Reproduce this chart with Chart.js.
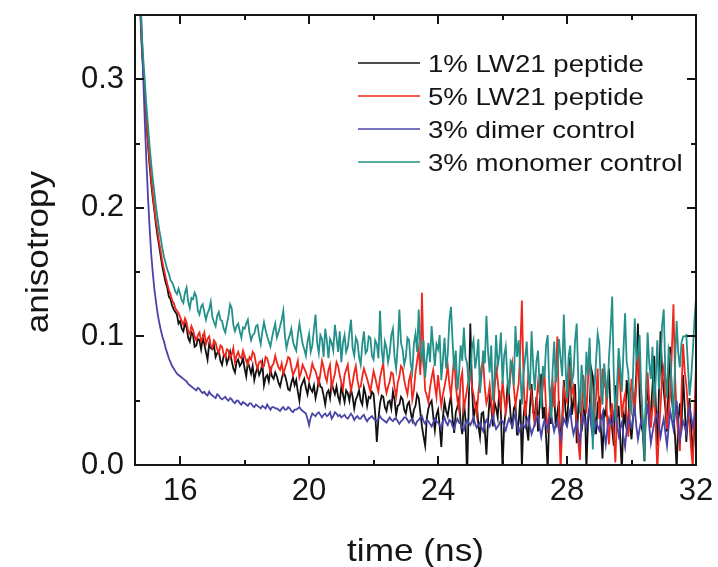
<!DOCTYPE html>
<html>
<head>
<meta charset="utf-8">
<title>anisotropy decay</title>
<script src="https://cdn.jsdelivr.net/npm/chart.js@4.4.1/dist/chart.umd.min.js"></script>
<style>
    html, body { margin: 0; padding: 0; background: #fff; }
    #wrap { width: 718px; height: 567px; }
</style>
</head>
<body>
<div id="wrap"><canvas id="chart" width="718" height="567"></canvas></div>
<script>
(function () {
    'use strict';

    // time channels: 0.05 ns apart, first one at 14.7 ns (one row = 1 ns)
    var T_START = 14.7;
    var T_STEP = 0.05;

    var X_TICKS = [16, 20, 24, 28, 32];
    var X_MINOR = [18, 22, 26, 30];
    var Y_TICKS = [0, 0.1, 0.2, 0.3];
    var Y_MINOR = [0.05, 0.15, 0.25];

    var LABELS = ['1% LW21 peptide', '5% LW21 peptide', '3% dimer control', '3% monomer control'];
    var COLORS = ['#111111', '#f0261c', '#4a44a6', '#23908a'];

    var LW21_1 = [
        0.400, 0.362, 0.330, 0.308, 0.290, 0.269,
        0.250, 0.234, 0.220, 0.208, 0.198, 0.187, 0.178, 0.170, 0.162, 0.154, 0.148, 0.142, 0.138, 0.131, 0.129, 0.124, 0.121, 0.119, 0.117, 0.110,
        0.112, 0.106, 0.104, 0.110, 0.107, 0.099, 0.096, 0.103, 0.101, 0.092, 0.093, 0.098, 0.097, 0.090, 0.099, 0.094, 0.088, 0.082, 0.094, 0.091,
        0.090, 0.093, 0.084, 0.087, 0.089, 0.081, 0.078, 0.085, 0.086, 0.079, 0.083, 0.088, 0.081, 0.075, 0.072, 0.080, 0.082, 0.077, 0.079, 0.083,
        0.075, 0.069, 0.080, 0.076, 0.071, 0.077, 0.066, 0.072, 0.076, 0.070, 0.073, 0.079, 0.062, 0.068, 0.070, 0.065, 0.074, 0.069, 0.067, 0.072,
        0.069, 0.064, 0.061, 0.067, 0.072, 0.070, 0.065, 0.059, 0.058, 0.064, 0.068, 0.062, 0.066, 0.057, 0.050, 0.061, 0.064, 0.067, 0.060, 0.055,
        0.063, 0.059, 0.057, 0.062, 0.052, 0.058, 0.066, 0.061, 0.060, 0.054, 0.047, 0.056, 0.058, 0.052, 0.064, 0.059, 0.055, 0.061, 0.053, 0.049,
        0.061, 0.055, 0.049, 0.058, 0.056, 0.050, 0.059, 0.053, 0.044, 0.051, 0.054, 0.058, 0.050, 0.047, 0.060, 0.055, 0.046, 0.053, 0.052, 0.057,
        0.055, 0.040, 0.018, 0.036, 0.048, 0.054, 0.053, 0.045, 0.042, 0.049, 0.050, 0.044, 0.057, 0.051, 0.039, 0.046, 0.047, 0.053, 0.051, 0.043,
        0.040, 0.047, 0.049, 0.041, 0.035, 0.043, 0.046, 0.055, 0.052, 0.041, 0.030, 0.022, 0.015, 0.036, 0.044, 0.048, 0.050, 0.038, 0.027, 0.039,
        0.043, 0.030, 0.014, 0.037, 0.049, 0.042, 0.038, 0.047, 0.054, 0.036, 0.025, 0.041, 0.045, 0.052, 0.033, 0.024, 0.051, 0.035, -0.010, 0.046,
        0.110, 0.062, 0.036, 0.044, 0.048, 0.031, 0.022, 0.040, 0.041, 0.027, 0.008, 0.034, 0.052, 0.045, 0.030, 0.049, 0.044, 0.037, 0.058, 0.040,
        -0.004, 0.031, 0.042, 0.060, 0.055, 0.039, 0.028, 0.044, 0.047, 0.023, 0.034, 0.051, -0.002, 0.037, 0.050, 0.029, 0.019, 0.045, 0.063, 0.041,
        0.038, 0.053, 0.026, 0.048, 0.071, 0.036, 0.045, 0.022, -0.004, 0.040, 0.032, 0.061, 0.057, 0.029, 0.041, 0.050, 0.012, 0.035, 0.066, 0.043,
        0.030, 0.056, 0.084, 0.039, 0.049, 0.063, 0.017, 0.045, 0.058, 0.026, 0.036, 0.052, -0.003, 0.033, 0.044, 0.075, 0.069, 0.040, 0.024, 0.048,
        0.051, 0.028, 0.005, 0.042, 0.039, 0.058, 0.075, 0.043, 0.028, 0.015, 0.062, 0.037, 0.046, 0.021, -0.006, 0.039, 0.033, 0.066, 0.055, 0.031,
        0.020, 0.038, 0.047, 0.072, 0.110, 0.054, 0.031, 0.025, 0.003, 0.046, 0.064, 0.037, 0.042, 0.060, 0.085, 0.049, 0.015, 0.056, 0.104, 0.071,
        0.058, 0.044, 0.026, 0.063, 0.092, 0.051, 0.040, 0.022, -0.004, 0.035, 0.048, 0.029, 0.070, 0.045, 0.018, 0.039, 0.052, 0.030, 0.009, 0.027,
        0.038
    ];

    var LW21_5 = [
        0.400, 0.365, 0.335, 0.311, 0.290, 0.270,
        0.252, 0.237, 0.224, 0.211, 0.200, 0.190, 0.182, 0.173, 0.166, 0.158, 0.152, 0.146, 0.141, 0.136, 0.133, 0.128, 0.126, 0.122, 0.120, 0.118,
        0.115, 0.112, 0.109, 0.114, 0.111, 0.104, 0.102, 0.108, 0.105, 0.100, 0.097, 0.101, 0.103, 0.096, 0.099, 0.103, 0.094, 0.098, 0.100, 0.093,
        0.091, 0.097, 0.095, 0.090, 0.087, 0.093, 0.092, 0.086, 0.084, 0.090, 0.089, 0.083, 0.086, 0.091, 0.080, 0.085, 0.088, 0.084, 0.083, 0.089,
        0.085, 0.081, 0.078, 0.084, 0.082, 0.088, 0.086, 0.079, 0.075, 0.080, 0.081, 0.076, 0.077, 0.084, 0.083, 0.078, 0.072, 0.077, 0.079, 0.085,
        0.080, 0.076, 0.074, 0.079, 0.071, 0.075, 0.079, 0.084, 0.083, 0.076, 0.070, 0.073, 0.076, 0.081, 0.068, 0.072, 0.078, 0.075, 0.072, 0.068,
        0.066, 0.072, 0.079, 0.075, 0.073, 0.068, 0.063, 0.071, 0.081, 0.076, 0.069, 0.065, 0.074, 0.078, 0.060, 0.066, 0.071, 0.080, 0.077, 0.070,
        0.064, 0.059, 0.070, 0.074, 0.078, 0.067, 0.058, 0.064, 0.072, 0.077, 0.066, 0.060, 0.061, 0.069, 0.075, 0.071, 0.067, 0.062, 0.057, 0.065,
        0.073, 0.068, 0.062, 0.057, 0.068, 0.074, 0.079, 0.063, 0.056, 0.061, 0.065, 0.072, 0.071, 0.060, 0.053, 0.064, 0.069, 0.077, 0.075, 0.066,
        0.060, 0.055, 0.066, 0.071, 0.051, 0.058, 0.072, 0.081, 0.090, 0.070, 0.134, 0.083, 0.058, 0.054, 0.049, 0.060, 0.068, 0.074, 0.062, 0.053,
        0.070, 0.058, 0.046, 0.055, 0.061, 0.068, 0.077, 0.063, 0.054, 0.070, 0.085, 0.062, 0.050, 0.043, 0.066, 0.072, 0.044, 0.051, 0.059, 0.067,
        0.073, 0.061, 0.055, 0.047, 0.039, 0.056, 0.068, 0.077, 0.081, 0.060, 0.048, 0.053, 0.062, 0.049, 0.036, 0.058, 0.075, 0.066, 0.052, 0.045,
        0.066, 0.052, 0.041, 0.050, 0.058, 0.071, 0.079, 0.060, 0.047, 0.055, 0.063, 0.090, 0.128, 0.067, 0.038, 0.049, 0.071, 0.064, 0.054, 0.042,
        0.030, 0.047, 0.064, 0.055, 0.048, 0.061, 0.072, 0.044, 0.025, 0.041, 0.058, 0.066, 0.045, 0.070, 0.100, 0.038, -0.003, 0.029, 0.060, 0.053,
        0.049, 0.064, 0.078, 0.056, 0.061, 0.044, 0.033, 0.018, 0.004, 0.037, 0.070, 0.059, 0.040, 0.066, 0.091, 0.052, 0.027, 0.041, 0.053, 0.075,
        0.036, 0.050, 0.075, 0.064, 0.059, 0.034, 0.016, 0.039, 0.048, 0.025, 0.002, 0.044, 0.080, 0.061, 0.037, 0.049, 0.055, 0.038, 0.022, 0.046,
        0.067, 0.056, 0.041, 0.063, 0.086, 0.070, 0.054, 0.031, 0.013, 0.048, 0.072, 0.050, 0.029, 0.044, 0.063, 0.030, -0.004, 0.024, 0.046, 0.069,
        0.076, 0.051, 0.028, 0.043, 0.056, 0.088, 0.125, 0.070, 0.038, 0.024, 0.011, 0.057, 0.094, 0.073, 0.062, 0.045, 0.031, 0.012, -0.002, 0.040,
        0.078
    ];

    var DIMER = [
        0.420, 0.380, 0.345, 0.305, 0.270, 0.238,
        0.210, 0.186, 0.165, 0.150, 0.137, 0.127, 0.118, 0.111, 0.105, 0.100, 0.096, 0.091, 0.087, 0.083, 0.080, 0.077, 0.075, 0.073, 0.071, 0.070,
        0.069, 0.068, 0.067, 0.066, 0.065, 0.063, 0.062, 0.061, 0.060, 0.059, 0.058, 0.060, 0.059, 0.057, 0.056, 0.057, 0.055, 0.054, 0.057, 0.055,
        0.054, 0.053, 0.052, 0.055, 0.054, 0.052, 0.051, 0.052, 0.053, 0.051, 0.050, 0.052, 0.051, 0.049, 0.048, 0.050, 0.050, 0.048, 0.047, 0.049,
        0.048, 0.047, 0.046, 0.048, 0.048, 0.046, 0.045, 0.047, 0.046, 0.045, 0.044, 0.046, 0.045, 0.044, 0.047, 0.045, 0.043, 0.045, 0.045, 0.044,
        0.044, 0.043, 0.042, 0.044, 0.045, 0.043, 0.043, 0.045, 0.044, 0.042, 0.041, 0.043, 0.043, 0.044, 0.045, 0.043, 0.042, 0.041, 0.040, 0.036,
        0.031, 0.037, 0.040, 0.039, 0.038, 0.040, 0.041, 0.039, 0.037, 0.039, 0.040, 0.038, 0.039, 0.041, 0.036, 0.038, 0.041, 0.040, 0.038, 0.039,
        0.037, 0.038, 0.039, 0.037, 0.036, 0.038, 0.040, 0.038, 0.035, 0.037, 0.038, 0.036, 0.036, 0.038, 0.039, 0.036, 0.034, 0.036, 0.037, 0.038,
        0.036, 0.035, 0.034, 0.036, 0.038, 0.036, 0.035, 0.034, 0.033, 0.035, 0.037, 0.035, 0.034, 0.036, 0.036, 0.034, 0.032, 0.034, 0.035, 0.037,
        0.037, 0.035, 0.033, 0.035, 0.036, 0.033, 0.031, 0.034, 0.035, 0.037, 0.038, 0.034, 0.032, 0.035, 0.034, 0.032, 0.030, 0.033, 0.036, 0.034,
        0.033, 0.031, 0.029, 0.034, 0.037, 0.033, 0.031, 0.035, 0.034, 0.030, 0.028, 0.033, 0.036, 0.033, 0.032, 0.029, 0.027, 0.032, 0.035, 0.033,
        0.031, 0.034, 0.037, 0.032, 0.029, 0.031, 0.033, 0.029, 0.026, 0.032, 0.035, 0.032, 0.030, 0.035, 0.038, 0.032, 0.028, 0.030, 0.032, 0.035,
        0.034, 0.030, 0.027, 0.032, 0.036, 0.033, 0.030, 0.036, 0.040, 0.031, 0.025, 0.029, 0.033, 0.031, 0.029, 0.034, 0.037, 0.030, 0.024, 0.028,
        0.032, 0.036, 0.038, 0.029, 0.022, 0.030, 0.035, 0.031, 0.028, 0.036, 0.041, 0.033, 0.026, 0.031, 0.034, 0.027, 0.020, 0.029, 0.036, 0.033,
        0.030, 0.037, 0.043, 0.031, 0.024, 0.029, 0.033, 0.026, 0.018, 0.031, 0.039, 0.034, 0.029, 0.038, 0.045, 0.030, 0.021, 0.027, 0.034, 0.030,
        0.027, 0.035, 0.040, 0.026, 0.016, 0.028, 0.036, 0.032, 0.031, 0.039, 0.046, 0.032, 0.023, 0.029, 0.033, 0.022, 0.014, 0.027, 0.038, 0.031,
        0.029, 0.037, 0.044, 0.030, 0.020, 0.028, 0.035, 0.031, 0.026, 0.038, 0.048, 0.030, 0.017, 0.025, 0.032, 0.037, 0.040, 0.030, 0.022, 0.030,
        0.036, 0.025, 0.015, 0.029, 0.042, 0.035, 0.028, 0.040, 0.050, 0.033, 0.019, 0.027, 0.034, 0.030, 0.025, 0.036, 0.045, 0.038, 0.030, 0.037,
        0.042
    ];

    var MONOMER = [
        0.410, 0.372, 0.340, 0.318, 0.300, 0.281,
        0.265, 0.249, 0.235, 0.223, 0.212, 0.201, 0.192, 0.183, 0.176, 0.168, 0.162, 0.157, 0.152, 0.149, 0.144, 0.142, 0.139, 0.135, 0.133, 0.137,
        0.133, 0.128, 0.126, 0.134, 0.138, 0.127, 0.122, 0.130, 0.129, 0.134, 0.131, 0.120, 0.117, 0.123, 0.125, 0.119, 0.113, 0.118, 0.121, 0.127,
        0.115, 0.111, 0.108, 0.116, 0.119, 0.113, 0.112, 0.106, 0.103, 0.110, 0.116, 0.125, 0.122, 0.109, 0.104, 0.108, 0.110, 0.104, 0.099, 0.107,
        0.106, 0.110, 0.113, 0.103, 0.097, 0.101, 0.102, 0.108, 0.109, 0.100, 0.094, 0.104, 0.111, 0.105, 0.100, 0.096, 0.092, 0.099, 0.105, 0.110,
        0.099, 0.103, 0.108, 0.113, 0.120, 0.100, 0.091, 0.097, 0.101, 0.106, 0.096, 0.092, 0.089, 0.101, 0.110, 0.102, 0.094, 0.090, 0.085, 0.096,
        0.102, 0.088, 0.093, 0.106, 0.117, 0.095, 0.087, 0.101, 0.098, 0.084, 0.106, 0.097, 0.083, 0.098, 0.095, 0.089, 0.109, 0.099, 0.088, 0.104,
        0.080, 0.095, 0.101, 0.088, 0.092, 0.103, 0.113, 0.091, 0.085, 0.099, 0.096, 0.084, 0.078, 0.094, 0.104, 0.087, 0.089, 0.100, 0.099, 0.085,
        0.082, 0.097, 0.094, 0.083, 0.120, 0.090, 0.079, 0.096, 0.091, 0.080, 0.087, 0.101, 0.106, 0.084, 0.075, 0.093, 0.121, 0.095, 0.090, 0.078,
        0.084, 0.099, 0.097, 0.079, 0.072, 0.094, 0.102, 0.088, 0.121, 0.090, 0.081, 0.097, 0.068, 0.083, 0.095, 0.080, 0.108, 0.092, 0.077, 0.094,
        0.090, 0.101, 0.066, 0.082, 0.099, 0.075, 0.086, 0.112, 0.123, 0.096, 0.074, 0.089, 0.058, 0.071, 0.093, 0.081, 0.107, 0.084, 0.079, 0.062,
        0.069, 0.091, 0.097, 0.075, 0.084, 0.098, 0.056, 0.070, 0.089, 0.079, 0.116, 0.088, 0.072, 0.093, 0.050, 0.068, 0.101, 0.077, 0.085, 0.103,
        0.063, 0.085, 0.092, 0.068, 0.055, 0.081, 0.079, 0.062, 0.108, 0.084, 0.097, 0.073, 0.047, 0.070, 0.083, 0.096, 0.070, 0.058, 0.104, 0.077,
        0.058, 0.080, 0.089, 0.062, 0.044, 0.077, 0.068, 0.093, 0.101, 0.060, 0.037, 0.072, 0.096, 0.064, 0.074, 0.098, 0.083, 0.069, 0.117, 0.079,
        0.052, 0.085, 0.093, 0.064, 0.071, 0.097, 0.110, 0.066, 0.040, 0.078, 0.062, 0.043, 0.088, 0.070, 0.099, 0.058, 0.012, 0.060, 0.081, 0.102,
        0.094, 0.061, 0.047, 0.079, 0.066, 0.052, 0.083, 0.104, 0.131, 0.070, 0.034, 0.062, 0.091, 0.076, 0.057, 0.089, 0.118, 0.080, 0.072, 0.045,
        0.041, 0.073, 0.114, 0.082, 0.087, 0.101, 0.059, 0.035, 0.004, 0.061, 0.103, 0.079, 0.067, 0.092, 0.045, 0.066, 0.097, 0.059, 0.078, 0.109,
        0.121, 0.070, 0.052, 0.090, 0.084, 0.061, 0.035, 0.079, 0.112, 0.087, 0.076, 0.095, 0.100, 0.100, 0.101, 0.077, 0.054, 0.068, 0.088, 0.112,
        0.130
    ];

    var SERIES = [LW21_1, LW21_5, DIMER, MONOMER];
    // later datasets are painted first in Chart.js, so monomer gets the lowest order
    var DRAW_ORDER = [4, 3, 2, 1];

    var FONT = '"Liberation Sans", Arial, Helvetica, sans-serif';
    var INK = '#151515';

    function toPoints(values) {
        var pts = [];
        for (var i = 0; i < values.length; i++) {
            pts.push({ x: Math.round((T_START + i * T_STEP) * 100) / 100, y: values[i] });
        }
        return pts;
    }

    function stretchedText(ctx, text, x, y, sx, rot, align) {
        ctx.save();
        ctx.translate(x, y);
        if (rot) {
            ctx.rotate(rot);
        }
        ctx.scale(sx, 1);
        ctx.textAlign = align;
        ctx.textBaseline = 'alphabetic';
        ctx.fillText(text, 0, 0);
        ctx.restore();
    }

    // box frame, inward major/minor ticks on all four sides, titles, legend
    var framePlugin = {
        id: 'frame',
        afterDraw: function (chart) {
            var ctx = chart.ctx;
            var a = chart.chartArea;
            var xs = chart.scales.x;
            var ys = chart.scales.y;
            var i, p;

            ctx.save();
            ctx.strokeStyle = INK;
            ctx.lineWidth = 2;
            ctx.strokeRect(a.left, a.top, a.right - a.left, a.bottom - a.top);

            ctx.beginPath();
            function xTick(v, len) {
                p = Math.round(xs.getPixelForValue(v));
                ctx.moveTo(p, a.bottom);
                ctx.lineTo(p, a.bottom - len);
                ctx.moveTo(p, a.top);
                ctx.lineTo(p, a.top + len);
            }
            function yTick(v, len) {
                p = Math.round(ys.getPixelForValue(v));
                ctx.moveTo(a.left, p);
                ctx.lineTo(a.left + len, p);
                ctx.moveTo(a.right, p);
                ctx.lineTo(a.right - len, p);
            }
            for (i = 0; i < X_TICKS.length; i++) { xTick(X_TICKS[i], 9); }
            for (i = 0; i < X_MINOR.length; i++) { xTick(X_MINOR[i], 5); }
            for (i = 0; i < Y_TICKS.length; i++) { yTick(Y_TICKS[i], 9); }
            for (i = 0; i < Y_MINOR.length; i++) { yTick(Y_MINOR[i], 5); }
            ctx.stroke();

            // axis titles
            ctx.fillStyle = INK;
            ctx.font = '32px ' + FONT;
            stretchedText(ctx, 'time (ns)', (a.left + a.right) / 2, 561, 1.1, 0, 'center');
            stretchedText(ctx, 'anisotropy', 48, 252, 1.1, -Math.PI / 2, 'center');

            // legend
            ctx.font = '24px ' + FONT;
            for (i = 0; i < LABELS.length; i++) {
                var ly = 63 + i * 33;
                ctx.strokeStyle = COLORS[i];
                ctx.lineWidth = 1.6;
                ctx.beginPath();
                ctx.moveTo(358, ly);
                ctx.lineTo(420, ly);
                ctx.stroke();
                ctx.fillStyle = INK;
                stretchedText(ctx, LABELS[i], 428, ly + 9, 1.15, 0, 'left');
            }
            ctx.restore();
        }
    };

    function boot() {
        var canvas = document.getElementById('chart');
        if (!canvas || typeof Chart === 'undefined') {
            return;
        }

        var datasets = [];
        for (var i = 0; i < SERIES.length; i++) {
            datasets.push({
                label: LABELS[i],
                data: toPoints(SERIES[i]),
                borderColor: COLORS[i],
                backgroundColor: COLORS[i],
                borderWidth: 1.8,
                pointRadius: 0,
                tension: 0,
                fill: false,
                order: DRAW_ORDER[i]
            });
        }

        new Chart(canvas, {
            type: 'line',
            data: { datasets: datasets },
            options: {
                responsive: false,
                animation: false,
                events: [],
                layout: { padding: { left: 0, right: 22, top: 15, bottom: 0 } },
                plugins: {
                    legend: { display: false },
                    tooltip: { enabled: false }
                },
                scales: {
                    x: {
                        type: 'linear',
                        min: 14.6,
                        max: 32,
                        grid: { display: false, drawTicks: false },
                        border: { display: false },
                        ticks: {
                            color: INK,
                            padding: 8,
                            maxRotation: 0,
                            autoSkip: false,
                            font: { family: FONT, size: 31 },
                            callback: function (v) { return String(v); }
                        },
                        afterBuildTicks: function (scale) {
                            scale.ticks = X_TICKS.map(function (v) { return { value: v }; });
                        },
                        afterFit: function (scale) {
                            scale.height = 102;
                            scale.paddingLeft = 0;
                            scale.paddingRight = 0;
                        }
                    },
                    y: {
                        min: 0,
                        max: 0.35,
                        grid: { display: false, drawTicks: false },
                        border: { display: false },
                        ticks: {
                            color: INK,
                            padding: 11,
                            font: { family: FONT, size: 31 },
                            callback: function (v) { return Number(v).toFixed(1); }
                        },
                        afterBuildTicks: function (scale) {
                            scale.ticks = Y_TICKS.map(function (v) { return { value: v }; });
                        },
                        afterFit: function (scale) {
                            scale.width = 135;
                            scale.paddingTop = 0;
                            scale.paddingBottom = 0;
                        }
                    }
                }
            },
            plugins: [framePlugin]
        });
    }

    if (document.readyState === 'loading') {
        document.addEventListener('DOMContentLoaded', boot);
    } else {
        boot();
    }
})();
</script>
</body>
</html>
